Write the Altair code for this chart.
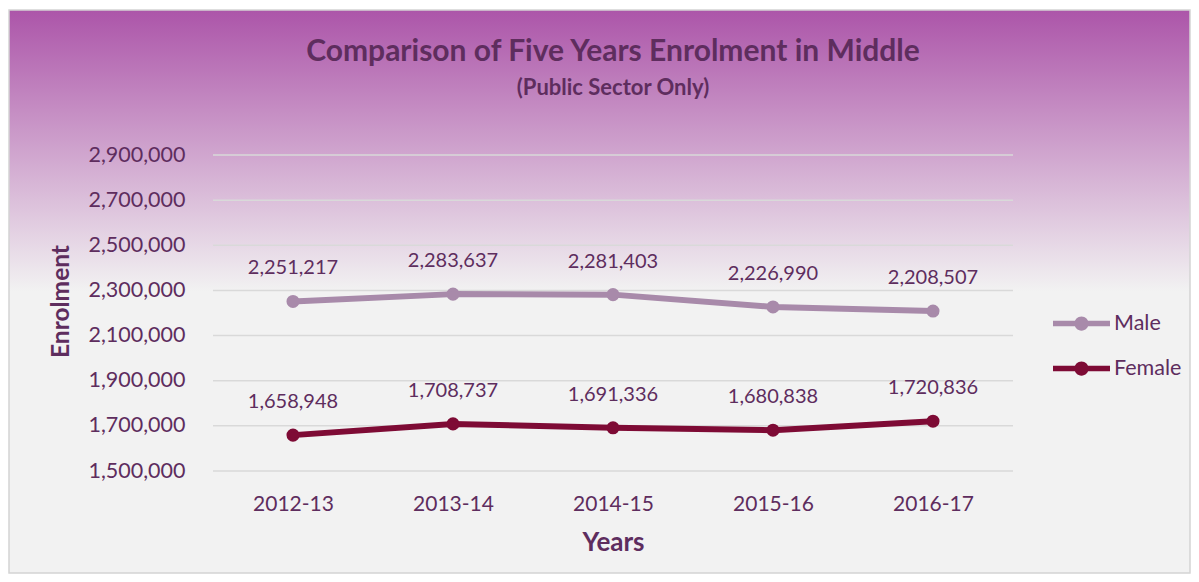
import altair as alt
import pandas as pd

years = ["2012-13", "2013-14", "2014-15", "2015-16", "2016-17"]
male = [2251217, 2283637, 2281403, 2226990, 2208507]
female = [1658948, 1708737, 1691336, 1680838, 1720836]
series = ["Male", "Female"]
y_ticks = [1500000, 1700000, 1900000, 2100000, 2300000, 2500000, 2700000, 2900000]

rows = []
for yr, m, f in zip(years, male, female):
    rows.append({"Year": yr, "Series": "Male", "Enrolment": m})
    rows.append({"Year": yr, "Series": "Female", "Enrolment": f})
df = pd.DataFrame(rows)

FONT = "Lato"
TXT = "#5E2D5E"
MALE_C = "#A88AAA"
FEMALE_C = "#7E0B35"
GRID_C = "#D9D9D9"

yscale = alt.Scale(domain=[1500000, 2900000], nice=False, zero=False)
xscale = alt.Scale(domain=years)
cscale = alt.Scale(domain=series, range=[MALE_C, FEMALE_C])

legend_path = ("M-1,-0.1H1V0.1H-1Z "
               "M0.25,0A0.25,0.25,0,1,1,-0.25,0A0.25,0.25,0,1,1,0.25,0Z")

bg = alt.Chart(alt.Data(values=[{"a": 1}])).mark_rect(
    fill=alt.LinearGradient(
        gradient="linear",
        stops=[
            alt.GradientStop(color="#AC55A9", offset=0),
            alt.GradientStop(color="#F2F2F2", offset=0.5),
            alt.GradientStop(color="#F2F2F2", offset=1),
        ],
        x1=0, x2=0, y1=0, y2=1,
    ),
    stroke="#D4D4D4",
    strokeWidth=1.5,
).encode(
    x=alt.value(-204), x2=alt.value(977),
    y=alt.value(-145), y2=alt.value(418),
)

y_axis = alt.Axis(
    title="Enrolment", values=y_ticks, format=",.0f", grid=False,
    domain=False, ticks=False, zindex=2,
    labelFont=FONT, labelFontSize=21.5, labelColor=TXT, labelPadding=28,
    titleFont=FONT, titleFontSize=24.5, titleFontWeight="bold",
    titleColor=TXT, titlePadding=14, titleY=146,
)

grid = alt.Chart(pd.DataFrame({"tick": y_ticks})).mark_rule(
    color=GRID_C, strokeWidth=1.5
).encode(y=alt.Y("tick:Q", scale=yscale, axis=y_axis))

base = alt.Chart(df).encode(
    x=alt.X(
        "Year:N", scale=xscale, sort=years,
        axis=alt.Axis(
            title="Years", labelAngle=0, domain=False, ticks=False, zindex=2,
            labelFont=FONT, labelFontSize=21, labelColor=TXT, labelPadding=22,
            titleFont=FONT, titleFontSize=26, titleFontWeight="bold",
            titleColor=TXT, titlePadding=15,
        ),
    ),
    y=alt.Y("Enrolment:Q", scale=yscale, axis=y_axis),
)

points = base.mark_circle(size=170, opacity=1).encode(
    color=alt.Color(
        "Series:N", scale=cscale,
        legend=alt.Legend(
            title=None, orient="none", legendX=840, legendY=140, zindex=2,
            symbolType=legend_path, symbolSize=3249, symbolStrokeWidth=0,
            symbolOpacity=1,
            labelFont=FONT, labelFontSize=21.5, labelColor=TXT, labelOffset=4,
            rowPadding=6,
        ),
    )
)
lines = base.mark_line(strokeWidth=6, strokeCap="round", strokeJoin="round").encode(
    color=alt.Color("Series:N", scale=cscale, legend=None)
)
labels = base.mark_text(dy=-33, fontSize=20, font=FONT, color=TXT).encode(
    text=alt.Text("Enrolment:Q", format=",")
)

chart = alt.layer(bg, grid, points, lines, labels).properties(
    width=800, height=316,
    autosize=alt.AutoSizeParams(type="none"),
    padding={"left": 205, "top": 147, "right": 178, "bottom": 103},
    title=alt.TitleParams(
        text="Comparison of Five Years Enrolment in Middle",
        subtitle="(Public Sector Only)",
        font=FONT, fontSize=30, fontWeight="bold", color=TXT,
        subtitleFont=FONT, subtitleFontSize=22, subtitleFontWeight="bold",
        subtitleColor=TXT, subtitlePadding=11, anchor="middle", offset=-90,
        frame="group", zindex=2,
    ),
).configure(background="white").configure_view(stroke=None)

chart.save("out.html", embed_options={"renderer": "svg", "actions": False})
